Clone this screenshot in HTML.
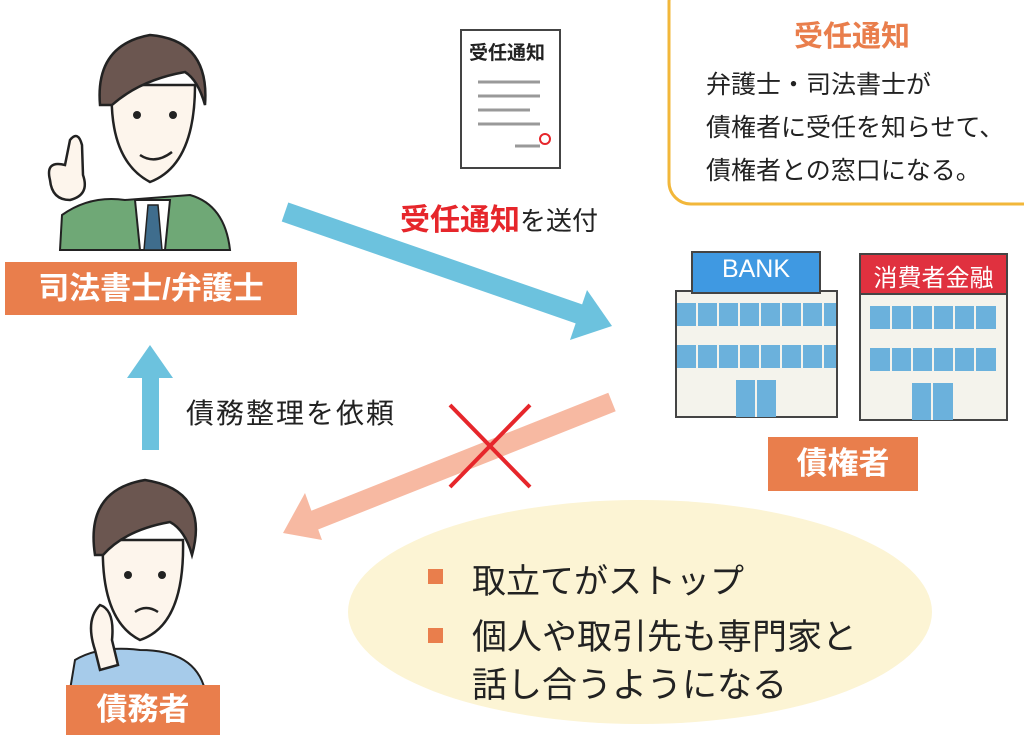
<!DOCTYPE html>
<html><head><meta charset="utf-8"><style>
body{margin:0;width:1024px;height:725px;overflow:hidden;background:#fff;font-family:"Liberation Sans","Noto Sans CJK JP",sans-serif;position:relative}
.a{position:absolute;white-space:nowrap}
.lab{position:absolute;background:#e97e4c;color:#fff;text-align:center;font-weight:bold}
</style></head><body>
<svg class="a" style="left:0;top:0" width="1024" height="725">
<ellipse cx="640" cy="612" rx="292" ry="112" fill="#fcf4d4"/>
<line x1="285" y1="212" x2="585" y2="316" stroke="#6cc2de" stroke-width="20"/>
<polygon points="612,326 570,340 587,290" fill="#6cc2de"/>
<line x1="612" y1="402" x2="310" y2="522" stroke="#f7b9a2" stroke-width="20"/>
<polygon points="283,533 305,493 322,540" fill="#f7b9a2"/>
<line x1="450" y1="405" x2="530" y2="487" stroke="#e6262b" stroke-width="4"/>
<line x1="530" y1="405" x2="450" y2="487" stroke="#e6262b" stroke-width="4"/>
<rect x="142" y="375" width="17" height="75" fill="#6cc2de"/>
<polygon points="150,345 127,378 173,378" fill="#6cc2de"/>
<rect x="461" y="30" width="99" height="138" fill="#fff" stroke="#444" stroke-width="2"/>
<g stroke="#999" stroke-width="3"><line x1="478" y1="82" x2="540" y2="82"/><line x1="478" y1="96" x2="540" y2="96"/><line x1="478" y1="110" x2="530" y2="110"/><line x1="478" y1="124" x2="540" y2="124"/><line x1="515" y1="146" x2="540" y2="146"/></g>
<circle cx="545" cy="139" r="5" fill="none" stroke="#e6262b" stroke-width="2"/>
<rect x="669" y="-20" width="400" height="224" rx="22" fill="#fff" stroke="#f2b73a" stroke-width="3"/>
<rect x="676" y="291" width="161" height="126" fill="#f4f3ec" stroke="#444" stroke-width="2"/>
<rect x="692" y="252" width="128" height="41" fill="#3f99e2" stroke="#444" stroke-width="2"/>
<g fill="#6bb1dc"><rect x="677" y="303" width="159" height="23"/><rect x="677" y="345" width="159" height="23"/><rect x="736" y="380" width="40" height="37"/></g>
<g stroke="#f4f3ec" stroke-width="2"><line x1="697" y1="303" x2="697" y2="368"/><line x1="718" y1="303" x2="718" y2="368"/><line x1="739" y1="303" x2="739" y2="368"/><line x1="760" y1="303" x2="760" y2="368"/><line x1="781" y1="303" x2="781" y2="368"/><line x1="802" y1="303" x2="802" y2="368"/><line x1="823" y1="303" x2="823" y2="368"/><line x1="756" y1="380" x2="756" y2="417"/></g>
<rect x="860" y="254" width="147" height="166" fill="#f4f3ec" stroke="#444" stroke-width="2"/>
<rect x="860" y="254" width="147" height="40" fill="#e0313f" stroke="#444" stroke-width="2"/>
<g fill="#6bb1dc"><rect x="870" y="306" width="126" height="23"/><rect x="870" y="348" width="126" height="23"/><rect x="912" y="383" width="41" height="37"/></g>
<g stroke="#f4f3ec" stroke-width="2"><line x1="891" y1="306" x2="891" y2="371"/><line x1="912" y1="306" x2="912" y2="371"/><line x1="933" y1="306" x2="933" y2="371"/><line x1="954" y1="306" x2="954" y2="371"/><line x1="975" y1="306" x2="975" y2="371"/><line x1="932" y1="383" x2="932" y2="420"/></g>
<!-- lawyer -->
<path d="M60,250 L62,215 Q90,195 125,200 L190,195 Q225,205 230,250 Z" fill="#6fa876" stroke="#222" stroke-width="2"/>
<polygon points="135,200 170,200 165,250 140,250" fill="#fff" stroke="#222" stroke-width="2"/>
<polygon points="148,205 158,205 162,250 144,250" fill="#3f6d8d" stroke="#222" stroke-width="1.5"/>
<path d="M112,85 Q108,160 150,182 Q195,165 195,85 Z" fill="#fdf5ec" stroke="#222" stroke-width="2.5"/>
<path d="M100,105 Q95,45 150,35 Q210,40 205,105 Q198,80 185,72 Q140,80 112,105 Z" fill="#6b5650" stroke="#222" stroke-width="2.5"/>
<circle cx="137" cy="115" r="4" fill="#222"/><circle cx="173" cy="115" r="4" fill="#222"/>
<path d="M140,155 Q155,165 172,152" fill="none" stroke="#222" stroke-width="2.5"/>
<path d="M50,180 Q45,160 65,165 L70,140 Q78,130 82,145 L83,175 Q90,195 70,200 Q52,200 50,180 Z" fill="#fdf5ec" stroke="#222" stroke-width="2.5"/>
<!-- debtor -->
<path d="M70,690 L75,660 Q100,645 140,650 Q195,650 205,690 Z" fill="#a6cbea" stroke="#222" stroke-width="2"/>
<path d="M103,540 Q100,620 140,640 Q185,625 183,540 Z" fill="#fdf5ec" stroke="#222" stroke-width="2.5"/>
<path d="M95,555 Q85,490 145,480 Q210,490 192,555 Q185,530 170,522 Q125,530 103,555 Z" fill="#6b5650" stroke="#222" stroke-width="2.5"/>
<circle cx="128" cy="575" r="4" fill="#222"/><circle cx="162" cy="575" r="4" fill="#222"/>
<path d="M135,612 Q146,604 158,612" fill="none" stroke="#222" stroke-width="2.5"/>
<path d="M95,650 Q85,620 100,605 Q115,610 112,640 L118,665 L100,670 Z" fill="#fdf5ec" stroke="#222" stroke-width="2.5"/>
<rect x="428" y="569" width="15" height="15" fill="#e97e4c"/>
<rect x="428" y="628" width="15" height="15" fill="#e97e4c"/>
</svg>
<div class="a" style="left:469px;top:38px;font-size:19px;font-weight:bold;color:#222">受任通知</div>
<div class="a" style="left:794px;top:13px;font-size:29px;font-weight:bold;color:#e97e4c">受任通知</div>
<div class="a" style="left:706px;top:64px;font-size:25px;line-height:43px;color:#222">弁護士・司法書士が<br>債権者に受任を知らせて、<br>債権者との窓口になる。</div>
<div class="a" style="left:400px;top:195px;font-size:26px;color:#222"><span style="color:#e6262b;font-weight:bold;font-size:30px">受任通知</span>を送付</div>
<div class="a" style="left:186px;top:392px;font-size:28px;letter-spacing:2px;color:#222">債務整理を依頼</div>
<div class="a" style="left:692px;top:255px;width:128px;text-align:center;font-size:25px;color:#fff">BANK</div>
<div class="a" style="left:860px;top:258px;width:147px;text-align:center;font-size:24px;color:#fff">消費者金融</div>
<div class="lab" style="left:5px;top:262px;width:292px;height:53px;line-height:53px;font-size:31px">司法書士/弁護士</div>
<div class="lab" style="left:768px;top:437px;width:150px;height:54px;line-height:54px;font-size:31px">債権者</div>
<div class="lab" style="left:66px;top:685px;width:154px;height:50px;line-height:50px;font-size:31px">債務者</div>
<div class="a" style="left:472px;top:554px;font-size:34px;color:#222">取立てがストップ</div>
<div class="a" style="left:472px;top:614px;font-size:35px;line-height:48px;color:#222">個人や取引先も専門家と<br>話し合うようになる</div>
</body></html>
